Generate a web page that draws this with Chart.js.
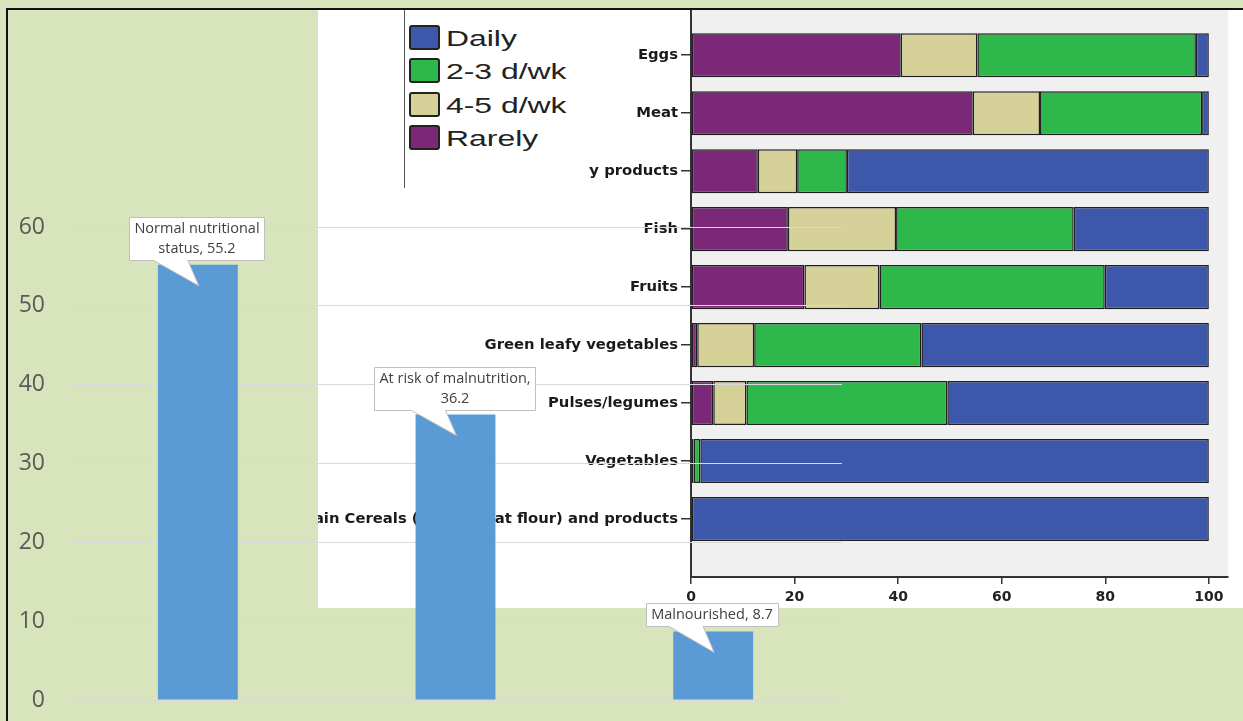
<!DOCTYPE html>
<html lang="en">
<head>
<meta charset="UTF-8">
<title>Nutritional status and food frequency</title>
<script src="https://cdn.jsdelivr.net/npm/chart.js@4"></script>
<style>
  html, body { margin: 0; padding: 0; }
  body { width: 1243px; height: 721px; overflow: hidden; position: relative; background: #d8e4bc; }
  #freq-box { position: absolute; left: 318px; top: 10px; width: 925px; height: 598px; background: #fff; overflow: hidden; z-index: 1; }
  #freqChart { position: absolute; left: 0; top: 0; }
  #legend { position: absolute; left: 86px; top: 0; width: 184px; height: 178px; background: #fff; border-left: 1px solid #555; z-index: 2; }
  .item { position: absolute; left: 4px; height: 25px; }
  .swatch { position: absolute; left: 0; top: 0; width: 27px; height: 21px; border: 2px solid #222; border-radius: 3px; }
  .item span { position: absolute; left: 37px; top: 1px; font: 22px "Liberation Sans", Arial, sans-serif; line-height: 25px; color: #222; white-space: nowrap; transform: scaleX(1.45); transform-origin: left center; }
  #statusChart { position: absolute; left: 0; top: 0; z-index: 3; }
  #frame { position: absolute; left: 6px; top: 8px; right: 0; bottom: 0; border-left: 2px solid #111; border-top: 2px solid #111; z-index: 4; }
</style>
</head>
<body>
  <div id="freq-box">
    <canvas id="freqChart" width="925" height="598"></canvas>
    <div id="legend"></div>
  </div>
  <canvas id="statusChart" width="1243" height="721"></canvas>
  <div id="frame"></div>

<script>
// background chart: nutritional status (%)
const statusLabels = ["Normal nutritional status", "At risk of malnutrition", "Malnourished"];
const statusValues = [55.2, 36.2, 8.7];
const statusTicks = [0, 10, 20, 30, 40, 50, 60];

// overlaid chart: frequency of consumption (%)
const foodGroups = ["Eggs", "Meat", "Milk and dairy products", "Fish", "Fruits",
  "Green leafy vegetables", "Pulses/legumes", "Vegetables", "Grain Cereals (rice, wheat flour) and products"];
const freqLabels = ["Rarely", "4-5 d/wk", "2-3 d/wk", "Daily"];
const rarelyValues = [40.5, 54.4, 12.9, 18.7, 21.9, 1.2, 4.3, 0.5, 0];
const days45Values = [14.8, 13.0, 7.6, 20.9, 14.5, 11.0, 6.4, 0, 0];
const days23Values = [42.2, 31.3, 9.6, 34.3, 43.5, 32.3, 38.8, 1.3, 0];
const dailyValues = [2.5, 1.3, 69.9, 26.1, 20.1, 55.5, 50.5, 98.2, 100];
const freqTicks = [0, 20, 40, 60, 80, 100];

const freqSeries = [rarelyValues, days45Values, days23Values, dailyValues];
const freqColors = ["#7b2878", "#d6d099", "#2eb84b", "#3d58aa"];

// legend, listed top to bottom in reverse stacking order
const legendEl = document.getElementById("legend");
freqLabels.slice().reverse().forEach((lab, i) => {
  const k = freqLabels.length - 1 - i;
  const item = document.createElement("div");
  item.className = "item";
  item.style.top = (15 + i * 33.4) + "px";
  item.innerHTML = '<div class="swatch" style="background:' + freqColors[k] + '"></div><span>' + lab + '</span>';
  legendEl.appendChild(item);
});

const plotBackground = {
  id: "plotBackground",
  beforeDraw(chart) {
    const { ctx, chartArea: a } = chart;
    ctx.save();
    ctx.fillStyle = "#f0f0f0";
    ctx.fillRect(a.left, a.top, a.width, a.height);
    ctx.restore();
  }
};

const labelFont = { family: '"DejaVu Sans", sans-serif', size: 14.8, weight: "bold" };

new Chart(document.getElementById("freqChart"), {
  type: "bar",
  data: {
    datasets: freqSeries.map((vals, k) => ({
      label: freqLabels[k],
      data: vals.map((v, i) => ({ x: v, y: i })),
      backgroundColor: freqColors[k],
      borderColor: "#1e1e1e",
      borderWidth: 1.5,
      borderSkipped: false,
      categoryPercentage: 1,
      barPercentage: 0.76
    }))
  },
  options: {
    indexAxis: "y",
    responsive: false,
    animation: false,
    layout: { padding: { top: 0, right: 15, bottom: 0, left: 0 } },
    plugins: { legend: { display: false }, tooltip: { enabled: false } },
    scales: {
      x: {
        type: "linear",
        stacked: true,
        min: 0,
        max: 103.7,
        border: { color: "#333", width: 2 },
        grid: { drawOnChartArea: false, tickLength: 7, color: "#333", lineWidth: 1.5 },
        ticks: { padding: 5, color: "#222", font: { family: '"DejaVu Sans", sans-serif', size: 14, weight: "bold" } },
        afterBuildTicks: s => { s.ticks = freqTicks.map(v => ({ value: v })); },
        afterFit: s => { s.height = 31; s.paddingLeft = 0; s.paddingRight = 0; }
      },
      y: {
        type: "linear",
        stacked: true,
        reverse: true,
        offset: false,
        min: -0.78,
        max: 9,
        border: { color: "#333", width: 2 },
        grid: { offset: false, drawOnChartArea: false, tickLength: 10, color: "#333", lineWidth: 1.5 },
        ticks: { padding: 3, color: "#1a1a1a", font: labelFont, callback: v => foodGroups[v] },
        afterBuildTicks: s => { s.ticks = foodGroups.map((g, i) => ({ value: i })); },
        afterFit: s => { s.width = 373; s.paddingTop = 0; s.paddingBottom = 0; }
      }
    }
  },
  plugins: [plotBackground]
});

function wrapText(ctx, text, maxWidth) {
  const words = text.split(" ");
  const lines = [];
  let line = "";
  words.forEach(w => {
    const test = line ? line + " " + w : w;
    if (line && ctx.measureText(test).width > maxWidth) {
      lines.push(line);
      line = w;
    } else {
      line = test;
    }
  });
  lines.push(line);
  return lines;
}

// data callouts with a pointer into the bar
const callouts = {
  id: "callouts",
  afterDatasetsDraw(chart) {
    const { ctx } = chart;
    const meta = chart.getDatasetMeta(0);
    ctx.save();
    ctx.font = '14.5px "Open Sans", sans-serif';
    meta.data.forEach((bar, i) => {
      const lines = wrapText(ctx, statusLabels[i] + ", " + statusValues[i], 160);
      const w = Math.round(Math.max(...lines.map(l => ctx.measureText(l).width)) + 10);
      const h = lines.length * 20 + 3;
      const cx = Math.round(bar.x) - 1;
      const bottom = Math.round(bar.y) - 5 + 0.5;
      const left = cx - Math.round(w / 2) + 0.5;
      const right = left + w;
      const top = bottom - h;
      ctx.beginPath();
      ctx.moveTo(left, top);
      ctx.lineTo(right, top);
      ctx.lineTo(right, bottom);
      ctx.lineTo(bar.x - 10, bottom);
      ctx.lineTo(bar.x + 1, bar.y + 21);
      ctx.lineTo(bar.x - 44, bottom);
      ctx.lineTo(left, bottom);
      ctx.closePath();
      ctx.fillStyle = "#fff";
      ctx.fill();
      ctx.strokeStyle = "#bfbfbf";
      ctx.lineWidth = 1;
      ctx.stroke();
      ctx.fillStyle = "#404040";
      ctx.textAlign = "center";
      ctx.textBaseline = "middle";
      lines.forEach((l, k) => ctx.fillText(l, cx, top + 11.5 + k * 20));
    });
    ctx.restore();
  }
};

new Chart(document.getElementById("statusChart"), {
  type: "bar",
  data: {
    labels: statusLabels,
    datasets: [{
      data: statusValues,
      backgroundColor: "#5b9bd5",
      categoryPercentage: 1,
      barPercentage: 0.31
    }]
  },
  options: {
    responsive: false,
    animation: false,
    layout: { padding: { top: 227, right: 401, bottom: 21, left: 0 } },
    plugins: { legend: { display: false }, tooltip: { enabled: false } },
    scales: {
      x: { display: false },
      y: {
        min: statusTicks[0],
        max: statusTicks[statusTicks.length - 1],
        border: { display: false },
        grid: { color: "#d9d9d9", drawTicks: false },
        ticks: { padding: 24, color: "#595959", font: { family: '"Open Sans", sans-serif', size: 23 } },
        afterBuildTicks: s => { s.ticks = statusTicks.map(v => ({ value: v })); },
        afterFit: s => { s.width = 69; s.paddingTop = 0; s.paddingBottom = 0; }
      }
    }
  },
  plugins: [callouts]
});
</script>
</body>
</html>
